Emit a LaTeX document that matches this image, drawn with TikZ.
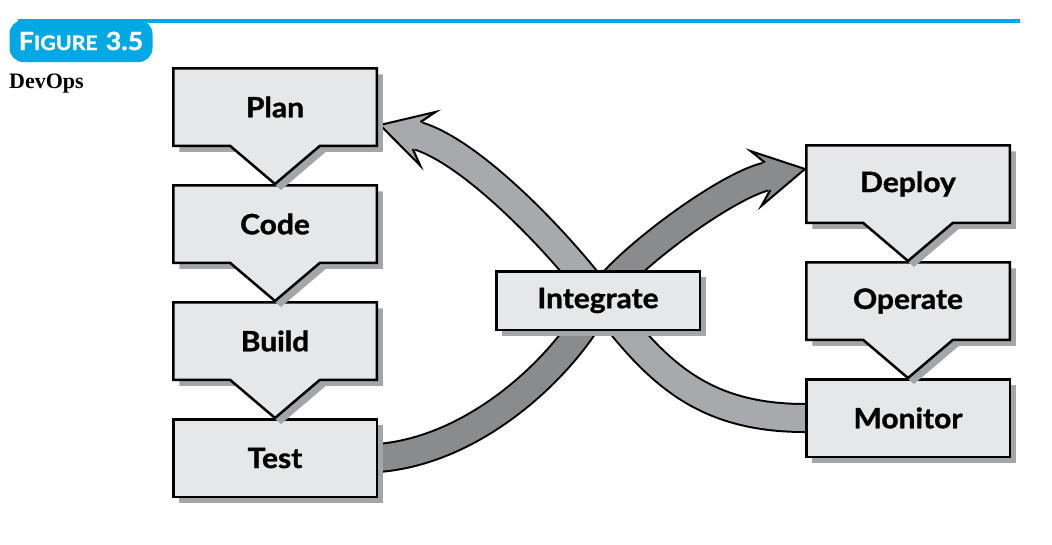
\documentclass[tikz,border=0pt]{standalone}
\usepackage{fontspec}
\setmainfont{Liberation Serif}
\newfontfamily\boxfont{Lato}[BoldFeatures={FakeStretch=1.07, FakeBold=1.2}]
\usetikzlibrary{positioning,shapes.callouts,shadows}
\definecolor{figblue}{HTML}{00A9E4}
\definecolor{boxgray}{HTML}{E6E7E8}
\definecolor{darkarrow}{HTML}{8A8B8D}
\definecolor{lightarrow}{HTML}{A7A9AC}
\definecolor{shadowgray}{HTML}{A3A5A8}
\pgfdeclarelayer{background}
\pgfsetlayers{background,main}

\begin{document}
\begin{tikzpicture}[x=1pt, y=-1pt,
        stage/.style={draw, line width=2.5pt, fill=boxgray, minimum width=203.5pt, minimum height=77.5pt, font=\boxfont\bfseries\fontsize{28}{32}\selectfont, drop shadow={shadow xshift=6pt, shadow yshift=-6pt, fill=shadowgray, opacity=1}},
        flow/.style={stage, rectangle callout, callout absolute pointer={(#1.north)}, callout pointer width=90pt},
        shaft/.style={line width=2pt, double distance=26pt},
        head/.style={line width=2pt, line join=miter}]
        \useasboundingbox (0,0) rectangle (1052,544);
        \draw[figblue, line width=3.5pt] (18,21) -- (1020,21);
        \node[fill=figblue, rounded corners=14pt, minimum width=143pt, minimum height=42pt, text=white, font=\boxfont\bfseries] (badge) at (81,41) {{\fontsize{25}{25}\selectfont F}{\fontsize{20}{20}\selectfont IGURE}\hspace{8pt}{\fontsize{25}{25}\selectfont 3.5}};
        \node[anchor=west, inner sep=0pt, font=\bfseries\fontsize{22}{24}\selectfont] (title) at (9,84) {DevOps};

        \node[stage] (test) at (275,458) {Test};
        \node[flow=test, above=37pt of test] (build) {Build};
        \node[flow=build, above=37pt of build] (code) {Code};
        \node[flow=code, above=37pt of code] (plan) {Plan};
        \node[stage] (monitor) at (908,418) {Monitor};
        \node[flow=monitor, above=37pt of monitor] (operate) {Operate};
        \node[flow=operate, above=37pt of operate] (deploy) {Deploy};
        \node[stage, minimum height=58.5pt] (integrate) at (598,300.5) {Integrate};

        \coordinate (dtip) at ([yshift=15pt]deploy.west);
        \coordinate (dbase) at ([shift={(191:38pt)}]dtip);
        \coordinate (ltip) at ([xshift=2pt, yshift=-18pt]plan.east);
        \coordinate (lbase) at ([shift={(-16:38pt)}]ltip);
        \begin{pgfonlayer}{background}
            \draw[shaft, double=lightarrow] (monitor.west) .. controls (700,418) and (655,370) .. (600,298) .. controls (565,250) and ([shift={(-16:60pt)}]lbase) .. (lbase);
            \draw[shaft, double=darkarrow] (test.east) .. controls (480,450) and (570,360) .. (600,298) .. controls (625,260) and ([shift={(191:40pt)}]dbase) .. (dbase);
            \fill[lightarrow, shift={(ltip)}, rotate=164] (0pt,0pt) -- (-50pt,28pt) -- (-40pt,14pt) -- (-40pt,-14pt) -- (-50pt,-28pt) -- cycle;
            \draw[head, shift={(ltip)}, rotate=164] (-38pt,14pt) -- (-50pt,28pt) -- (0pt,0pt) -- (-50pt,-28pt) -- (-38pt,-14pt);
            \fill[darkarrow, shift={(dtip)}, rotate=11] (0pt,0pt) -- (-50pt,28pt) -- (-40pt,14pt) -- (-40pt,-14pt) -- (-50pt,-28pt) -- cycle;
            \draw[head, shift={(dtip)}, rotate=11] (-38pt,14pt) -- (-50pt,28pt) -- (0pt,0pt) -- (-50pt,-28pt) -- (-38pt,-14pt);
        \end{pgfonlayer}
\end{tikzpicture}
\end{document}
